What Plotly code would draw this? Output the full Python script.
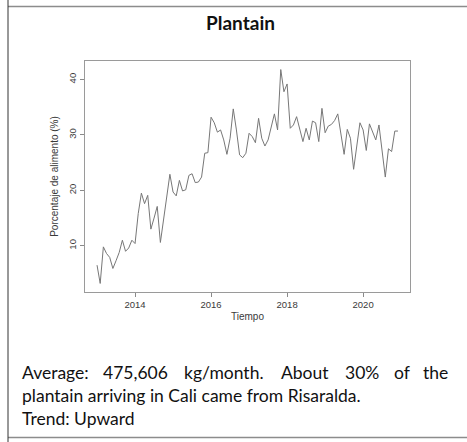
import plotly.graph_objects as go

# Monthly share of plantain supply (%), Jan 2013 - Dec 2020
start_year = 2013
pct_2013 = [6.5, 3.2, 9.8, 8.6, 7.9, 5.9, 7.3, 8.8, 11.0, 9.0, 9.6, 11.0]
pct_2014 = [10.4, 15.8, 19.5, 17.6, 19.1, 13.0, 15.0, 17.1, 10.6, 14.7, 18.8, 22.9]
pct_2015 = [19.7, 19.0, 21.8, 19.9, 20.1, 22.7, 23.0, 21.4, 21.5, 22.4, 26.7, 26.8]
pct_2016 = [33.2, 32.2, 30.5, 30.9, 29.1, 26.5, 29.4, 34.7, 30.9, 26.4, 25.9, 26.7]
pct_2017 = [30.3, 29.7, 28.6, 33.0, 29.4, 28.0, 29.1, 31.5, 33.8, 30.9, 41.8, 37.8]
pct_2018 = [39.2, 31.2, 31.8, 33.3, 30.9, 28.8, 31.2, 29.1, 32.5, 32.2, 28.8, 34.8]
pct_2019 = [30.4, 31.6, 31.9, 32.6, 33.8, 30.5, 26.5, 31.0, 29.4, 23.8, 28.0, 32.2]
pct_2020 = [30.9, 27.2, 32.0, 30.6, 29.1, 31.8, 27.5, 22.4, 27.5, 27.0, 30.7, 30.7]

x_ticks = [2014, 2016, 2018, 2020]
y_ticks = [10, 20, 30, 40]

title_text = "Plantain"
x_title = "Tiempo"
y_title = "Porcentaje de alimento (%)"
note_words = ["Average:", "475,606", "kg/month.", "About", "30%", "of", "the"]
note_line2 = "plantain arriving in Cali came from Risaralda."
note_line3 = "Trend: Upward"

values = pct_2013 + pct_2014 + pct_2015 + pct_2016 + pct_2017 + pct_2018 + pct_2019 + pct_2020
# time in decimal years, one step per month
times = [start_year + i / 12 for i in range(len(values))]

# R-style axis ranges: data extent padded by 4% on each side
def padded(lo, hi):
    d = (hi - lo) * 0.04
    return [lo - d, hi + d]

W, H = 467, 442
L, R, T, B = 85, 410, 61, 292

fig = go.Figure()
fig.add_trace(go.Scatter(
    x=times, y=values, mode="lines",
    line=dict(color="#777777", width=1),
    showlegend=False, hoverinfo="skip",
))

tick_font = dict(family="Liberation Sans, Arial, sans-serif", size=9.5, color="#3a3a3a")
title_font = dict(family="Liberation Sans, Arial, sans-serif", size=10, color="#3a3a3a")

fig.update_layout(
    width=W, height=H,
    margin=dict(l=L, r=W - R, t=T, b=H - B, pad=0),
    paper_bgcolor="white", plot_bgcolor="white",
    xaxis=dict(
        range=padded(times[0], times[-1]),
        tickvals=x_ticks, ticktext=[str(v) for v in x_ticks],
        ticks="outside", ticklen=4, tickcolor="#8a8a8a", tickwidth=1,
        showline=True, mirror=True, linecolor="#9a9a9a", linewidth=1,
        showgrid=False, zeroline=False, tickfont=tick_font,
        title=dict(text=x_title, font=title_font, standoff=3),
    ),
    yaxis=dict(
        range=padded(min(values), max(values)),
        tickvals=y_ticks, ticktext=[str(v) for v in y_ticks],
        ticks="outside", ticklen=4, tickcolor="#8a8a8a", tickwidth=1,
        tickangle=-90,
        showline=True, mirror=True, linecolor="#9a9a9a", linewidth=1,
        showgrid=False, zeroline=False, tickfont=tick_font,
        title=dict(text=y_title, font=title_font, standoff=6),
    ),
)

# table-cell borders around the figure
border = "#8c8c8c"
fig.add_shape(type="line", xref="paper", yref="paper",
              x0=(8 - L) / (R - L), x1=(W - L) / (R - L),
              y0=(B - 6.5) / (B - T), y1=(B - 6.5) / (B - T),
              line=dict(color=border, width=1.5))
fig.add_shape(type="line", xref="paper", yref="paper",
              x0=(8 - L) / (R - L), x1=(W - L) / (R - L),
              y0=(B - 437.5) / (B - T), y1=(B - 437.5) / (B - T),
              line=dict(color=border, width=1.5))
fig.add_shape(type="line", xref="paper", yref="paper",
              x0=(8 - L) / (R - L), x1=(8 - L) / (R - L),
              y0=(B - 0) / (B - T), y1=(B - H) / (B - T),
              line=dict(color="#333333", width=1))

def px_x(p):
    return (p - L) / (R - L)

def px_y(p):
    return (B - p) / (B - T)

text_font = dict(family="Lato, Carlito, sans-serif", size=17.5, color="#111111")

fig.add_annotation(text="<b>" + title_text + "</b>", xref="paper", yref="paper",
                   x=px_x(240), y=px_y(22), xanchor="center", yanchor="middle",
                   showarrow=False,
                   font=dict(family="Lato, Carlito, sans-serif", size=19, color="#111111"))

# justified first line of the note: word start columns (equal gaps)
word_left = [20, 100.6, 181.7, 279.3, 343.4, 392, 421.1]
for w, xl in zip(note_words, word_left):
    fig.add_annotation(text=w, xref="paper", yref="paper",
                       x=px_x(xl), y=px_y(372), xanchor="left", yanchor="middle",
                       showarrow=False, font=text_font)
fig.add_annotation(text=note_line2, xref="paper", yref="paper",
                   x=px_x(20), y=px_y(395), xanchor="left", yanchor="middle",
                   showarrow=False, font=text_font)
fig.add_annotation(text=note_line3, xref="paper", yref="paper",
                   x=px_x(20), y=px_y(418), xanchor="left", yanchor="middle",
                   showarrow=False, font=text_font)

fig.write_html("out.html")
